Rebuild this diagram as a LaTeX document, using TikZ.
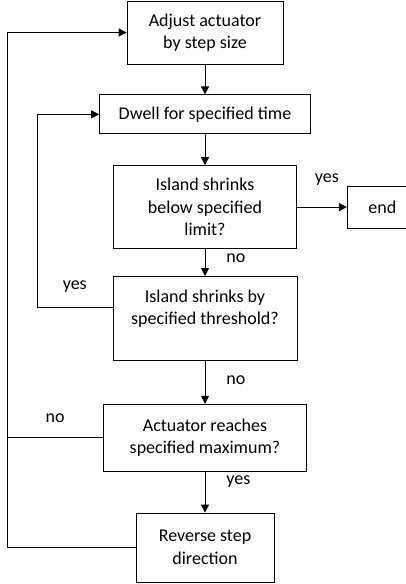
\documentclass[tikz,border=0pt]{standalone}
\usepackage{fontspec}
\setmainfont{Carlito}
\usepackage{tikz}
\usetikzlibrary{arrows.meta,positioning,calc}
\tikzset{
  blk/.style={draw, line width=0.8pt, align=center, inner sep=2pt, font=\fontsize{18}{22.5}\selectfont},
  arr/.style={-{Triangle[length=8pt,width=8pt]}, line width=0.8pt},
  lin/.style={line width=0.8pt},
  lbl/.style={font=\fontsize{18}{22.5}\selectfont, inner sep=1pt},
}

\begin{document}
\begin{tikzpicture}[node distance=30pt]
  \useasboundingbox (0,0) rectangle (405pt,-584pt);
  \node[blk, minimum width=156pt, minimum height=63pt] (adj) at (205pt,-32.5pt) {Adjust actuator\\by step size};
  \node[blk, minimum width=211pt, minimum height=39pt, below=30pt of adj] (dwell) {Dwell for specified time};
  \node[blk, minimum width=183pt, minimum height=83pt, below=31pt of dwell] (lim) {Island shrinks\\below specified\\limit?};
  \node[blk, minimum width=184pt, minimum height=84pt, below=27pt of lim] (thr) {Island shrinks by\\specified threshold?\\\mbox{}};
  \node[blk, minimum width=203pt, minimum height=67pt, below=43pt of thr] (max) {Actuator reaches\\specified maximum?};
  \node[blk, minimum width=138pt, minimum height=69pt, below=41pt of max] (rev) {Reverse step\\direction};
  \node[blk, minimum width=70pt, minimum height=42pt, right=50pt of lim] (fin) {end};

  \coordinate (outer) at (7pt,0);
  \coordinate (inner) at (37pt,0);

  \draw[arr] (adj) -- (dwell);
  \draw[arr] (dwell) -- (lim);
  \draw[arr] (lim) -- node[lbl, pos=0.35, right=20pt] {no} (thr);
  \draw[arr] (lim.east |- fin.west) -- node[lbl, pos=0.6, above=20pt] {yes} (fin.west);
  \draw[arr] (thr) -- node[lbl, pos=0.45, right=20pt] {no} (max);
  \draw[arr] (max) -- node[lbl, pos=0.25, right=20pt] {yes} (rev);

  % loops back
  \draw[arr] ([yshift=11pt]thr.west) -- node[lbl, midway, above=14pt] {yes} ([yshift=11pt]thr.west -| inner)
    -- (dwell.west -| inner) -- (dwell.west);
  \draw[lin] (max.west) -- node[lbl, midway, above=14pt] {no} (max.west -| outer);
  \draw[arr] (rev.west) -- (rev.west -| outer) -- (adj.west -| outer) -- (adj.west);
\end{tikzpicture}
\end{document}
